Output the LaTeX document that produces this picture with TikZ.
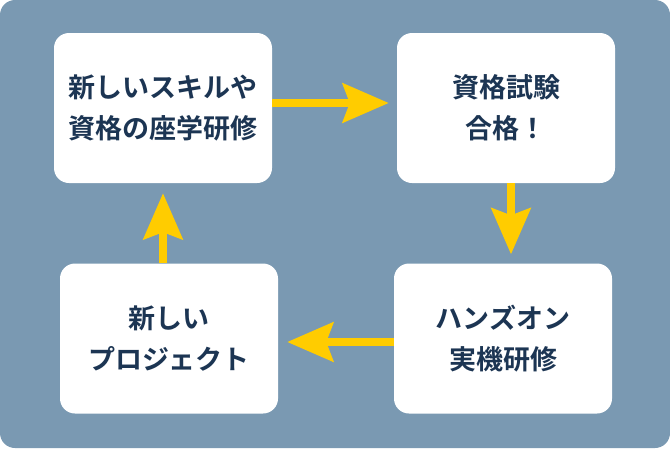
\documentclass[tikz,border=0pt]{standalone}
\usepackage{fontspec}
\newfontfamily\jpfont{Noto Sans CJK JP}[BoldFont={* Bold}]
\usetikzlibrary{arrows.meta}
\definecolor{bgblue}{HTML}{7A99B2}
\definecolor{arrowyellow}{HTML}{FFCC00}
\definecolor{textnavy}{HTML}{1C3553}
\begin{document}
\begin{tikzpicture}[x=1pt,y=-1pt,
  card/.style={fill=white, rounded corners=15pt, minimum width=218pt, minimum height=150pt,
    align=center, inner sep=0pt, text=textnavy, font=\jpfont\bfseries\fontsize{27}{41}\selectfont},
  flow/.style={draw=arrowyellow, line width=8pt,
    -{Stealth[length=46pt, width=39pt, inset=7pt]}}
]
\useasboundingbox (0,0) rectangle (670,448);
\fill[white] (0,0) rectangle (670,448);
\fill[bgblue, rounded corners=15pt] (0,0) rectangle (670,448);

\node[card] (b1) at (163,108) {新しいスキルや\\資格の座学研修};
\node[card] (b2) at (506,108) {資格試験\\合格！};
\node[card] (b3) at (169,338.5) {新しい\\プロジェクト};
\node[card] (b4) at (503,338.5) {ハンズオン\\実機研修};

\draw[flow, shorten >=8pt] ([yshift=5pt]b1.east) -- ([yshift=5pt]b2.west);
\draw[flow, shorten >=9pt] ([xshift=5pt]b2.south) -- ([xshift=8pt]b4.north);
\draw[flow, shorten >=9pt] ([yshift=-3.5pt]b4.west) -- ([yshift=-3.5pt]b3.east);
\draw[flow, shorten >=10pt] ([xshift=-6pt]b3.north) -- ([xshift=0pt]b1.south);
\end{tikzpicture}
\end{document}
